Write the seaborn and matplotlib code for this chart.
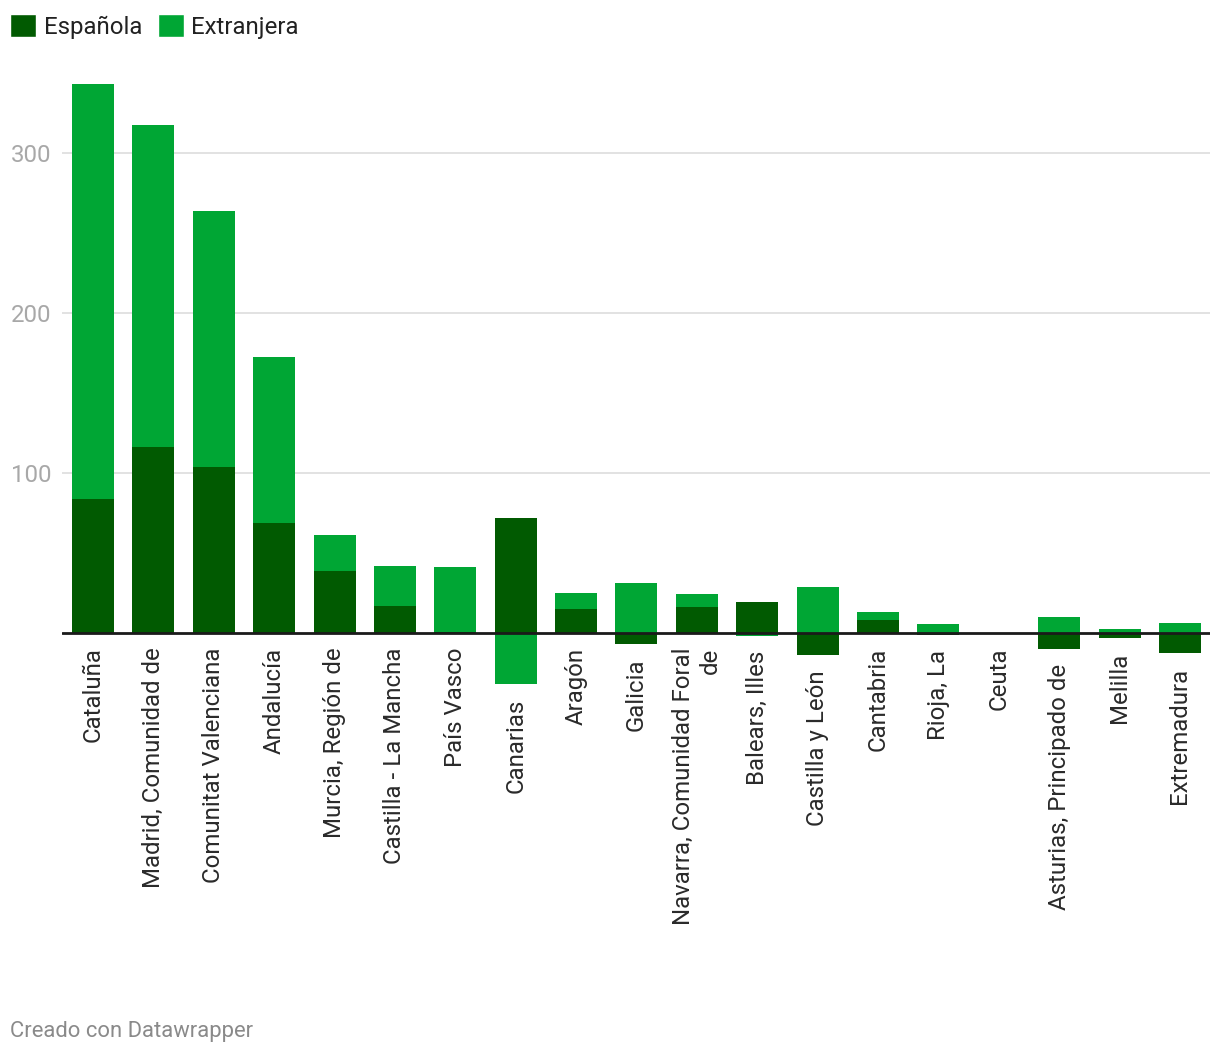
import matplotlib
matplotlib.use("Agg")
import matplotlib.pyplot as plt
import seaborn as sns
import numpy as np
import pandas as pd
from matplotlib.patches import Patch

sns.set_style("white")
plt.rcParams['font.family'] = ['Roboto', 'DejaVu Sans']

categories = ["Cataluña", "Madrid, Comunidad de", "Comunitat Valenciana", "Andalucía",
              "Murcia, Región de", "Castilla - La Mancha", "País Vasco", "Canarias",
              "Aragón", "Galicia", "Navarra, Comunidad Foral\nde", "Balears, Illes",
              "Castilla y León", "Cantabria", "Rioja, La", "Ceuta",
              "Asturias, Principado de", "Melilla", "Extremadura"]
espanola = [84, 116, 104, 69, 39, 17, 0.5, 72, 15, -7, 16, 19.5, -14, 8, -1.5, 0, -10, -3, -12.5]
extranjera = [259, 201.5, 160, 103.5, 22, 25, 40.5, -32, 10, 31, 8.5, -2, 29, 5, 5.5, 0, 10, 2.5, 6]

col_esp = "#015a01"
col_ext = "#00a634"

esp = np.array(espanola, dtype=float)
ext = np.array(extranjera, dtype=float)
same = np.sign(esp) == np.sign(ext)
ext_layer = np.where(same, esp + ext, ext)
lowest = np.minimum(0, np.minimum(esp, ext_layer))

df = pd.DataFrame({"cat": categories, "esp": esp, "ext_layer": ext_layer})

W, H = 1220, 1054
fig = plt.figure(figsize=(W / 100, H / 100), dpi=100)

x0, x1 = 62, 1210
ymin, ymax = -40, 350
zero_px = 633
ppu = 1.6
top_px = zero_px - ymax * ppu
bot_px = zero_px - ymin * ppu
ax = fig.add_axes([x0 / W, (H - bot_px) / H, (x1 - x0) / W, (bot_px - top_px) / H])

sns.barplot(data=df, x="cat", y="ext_layer", color=col_ext, width=0.695,
            saturation=1, ax=ax, linewidth=0, zorder=3)
sns.barplot(data=df, x="cat", y="esp", color=col_esp, width=0.695,
            saturation=1, ax=ax, linewidth=0, zorder=4)

ax.set_xlim(-0.513, len(categories) - 1 + 0.497)
ax.set_ylim(ymin, ymax)
ax.set_yticks([100, 200, 300])
ax.yaxis.grid(True, color="#e2e2e2", linewidth=1.4, zorder=0)
ax.set_axisbelow(True)
ax.axhline(0, color="#1a1a1a", linewidth=2, zorder=5)
for s in ax.spines.values():
    s.set_visible(False)
ax.set_xlabel("")
ax.set_ylabel("")
ax.tick_params(axis="y", length=0, pad=7.5, labelsize=17.3, labelcolor="#a8a8a8")
ax.tick_params(axis="x", length=0)
ax.set_xticks(range(len(categories)))
ax.set_xticklabels([])
for i, c in enumerate(categories):
    ax.annotate(c, xy=(i, lowest[i]), xycoords="data", xytext=(0, -10.5),
                textcoords="offset points", rotation=90, ha="center", va="top",
                multialignment="right", fontsize=17.3, color="#2a2a2a")

handles = [Patch(facecolor=col_esp, label="Española"), Patch(facecolor=col_ext, label="Extranjera")]
fig.legend(handles=handles, loc="upper left", bbox_to_anchor=(10 / W, 1 - 14 / H), ncol=2,
           frameon=False, fontsize=17.3, handlelength=1.1, handleheight=1.1,
           handletextpad=0.3, columnspacing=0.65, borderaxespad=0, borderpad=0,
           labelcolor="#222222")

fig.text(10 / W, 1 - 1031 / H, "Creado con Datawrapper", fontsize=15.8, color="#8a8a8a",
         ha="left", va="center")

fig.savefig("out.png", dpi=100, facecolor="white")
